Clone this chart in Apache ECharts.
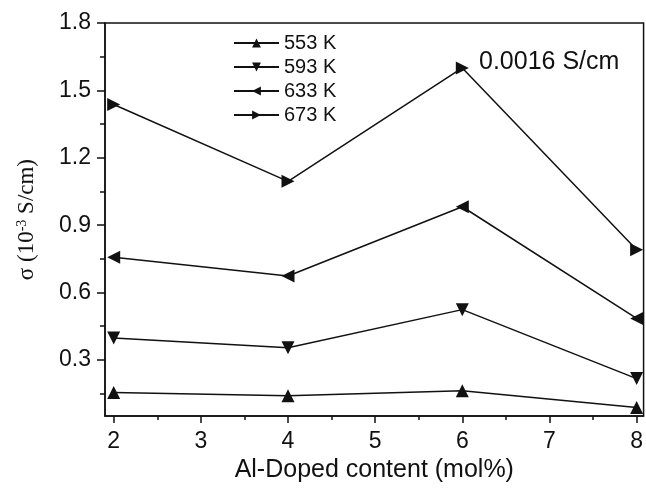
<!DOCTYPE html>
<html>
<head>
<meta charset="utf-8">
<script src="https://cdn.jsdelivr.net/npm/echarts@6/dist/echarts.min.js"></script>
<style>
  html, body { margin: 0; padding: 0; background: #fff; }
  #chart { width: 646px; height: 488px; }
</style>
</head>
<body>
<div id="chart"></div>
<script>
// Al-doped content (mol%)
const content = [2, 4, 6, 8];
// conductivity, 10^-3 S/cm
const s553 = [0.155, 0.141, 0.163, 0.088];
const s593 = [0.398, 0.354, 0.524, 0.217];
const s633 = [0.757, 0.674, 0.982, 0.485];
const s673 = [1.437, 1.095, 1.600, 0.791];

const xTicks = [2, 3, 4, 5, 6, 7, 8];
const xMinor = [2.5, 3.5, 4.5, 5.5, 6.5, 7.5];
const yTicks = [0.3, 0.6, 0.9, 1.2, 1.5, 1.8];
const yMinor = [0.15, 0.45, 0.75, 1.05, 1.35, 1.65];

const font = 'Liberation Sans, Arial, sans-serif';
const serif = 'Liberation Serif, Times New Roman, serif';
const ink = '#111';

const chart = echarts.init(document.getElementById('chart'), null, { renderer: 'canvas' });

function pairs(ys) {
  return content.map((x, i) => [x, ys[i]]);
}

function series(name, ys, rot) {
  return {
    name: name,
    type: 'line',
    xAxisIndex: 0,
    yAxisIndex: 0,
    data: pairs(ys),
    symbol: 'triangle',
    symbolSize: 13,
    symbolRotate: rot,
    showAllSymbol: true,
    lineStyle: { color: ink, width: 1.5 },
    itemStyle: { color: ink },
    emphasis: { disabled: true },
    z: 3
  };
}

chart.setOption({
  animation: false,
  backgroundColor: '#fff',
  grid: {
    left: 105, right: 2, top: 23, bottom: 69,
    show: true, borderColor: ink, borderWidth: 1.5, backgroundColor: 'transparent'
  },
  legend: {
    orient: 'vertical',
    left: 228, top: 28,
    itemWidth: 45, itemHeight: 11, itemGap: 4,
    textStyle: { fontFamily: font, fontSize: 20, lineHeight: 20, color: ink },
    data: ['553 K', '593 K', '633 K', '673 K']
  },
  graphic: [{
    type: 'text',
    left: 479, top: 50,
    style: { text: '0.0016 S/cm', font: '25px ' + font, fill: ink }
  }],
  xAxis: [{
    type: 'value', position: 'bottom',
    min: 1.9, max: 8.08,
    name: 'Al-Doped content (mol%)',
    nameLocation: 'middle', nameGap: 41,
    nameTextStyle: { fontFamily: font, fontSize: 25, color: ink },
    axisLine: { show: true, lineStyle: { color: ink, width: 1.5 } },
    axisTick: { show: true, length: 7, lineStyle: { color: ink, width: 1.5 }, customValues: xTicks },
    axisLabel: { fontFamily: font, fontSize: 23, color: ink, margin: 14, customValues: xTicks },
    splitLine: { show: false }
  }, {
    type: 'value', position: 'bottom',
    min: 1.9, max: 8.08,
    axisLine: { show: false },
    axisTick: { show: true, length: 4, lineStyle: { color: ink, width: 1.5 }, customValues: xMinor },
    axisLabel: { show: false },
    splitLine: { show: false }
  }],
  yAxis: [{
    type: 'value', position: 'left',
    min: 0.05, max: 1.8,
    name: '{s|σ (10}{sup|-3}{s| S/cm)}',
    nameLocation: 'middle', nameGap: 66, nameRotate: 90,
    nameTextStyle: {
      rich: {
        s: { fontFamily: serif, fontSize: 23, color: ink },
        sup: { fontFamily: serif, fontSize: 14, color: ink, verticalAlign: 'top', padding: [0, 0, 10, 0] }
      }
    },
    axisLine: { show: true, lineStyle: { color: ink, width: 1.5 } },
    axisTick: { show: true, length: 8, lineStyle: { color: ink, width: 1.5 }, customValues: yTicks },
    axisLabel: {
      fontFamily: font, fontSize: 23, color: ink, margin: 14,
      customValues: yTicks,
      formatter: v => v.toFixed(1)
    },
    splitLine: { show: false }
  }, {
    type: 'value', position: 'left',
    min: 0.05, max: 1.8,
    axisLine: { show: false },
    axisTick: { show: true, length: 5, lineStyle: { color: ink, width: 1.5 }, customValues: yMinor },
    axisLabel: { show: false },
    splitLine: { show: false }
  }],
  series: [
    series('553 K', s553, 0),
    series('593 K', s593, 180),
    series('633 K', s633, 90),
    series('673 K', s673, -90)
  ]
});
</script>
</body>
</html>
